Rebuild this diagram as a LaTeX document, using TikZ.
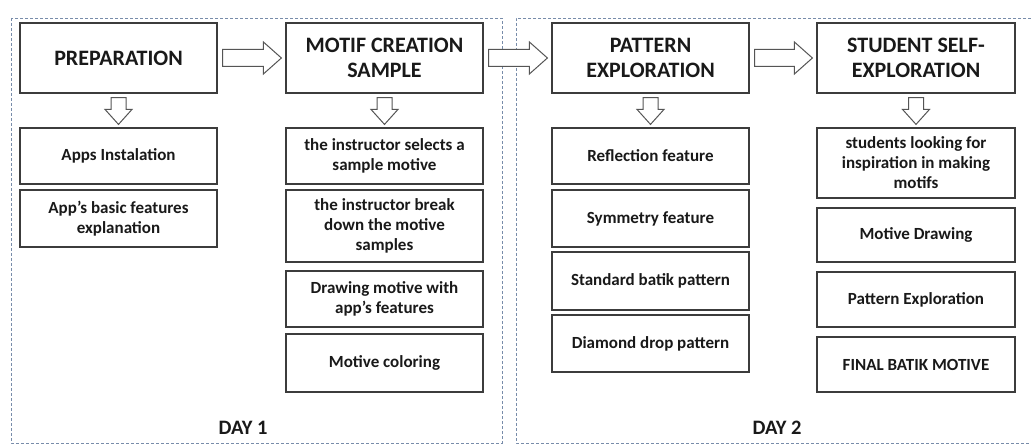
\documentclass[tikz,border=0pt]{standalone}
\usepackage{fontspec}
\setmainfont{Carlito}
\usetikzlibrary{calc}
\definecolor{framecol}{RGB}{120,140,170}
\definecolor{boxcol}{RGB}{60,60,60}
\definecolor{txtcol}{RGB}{25,25,25}
\definecolor{arrcol}{RGB}{85,85,85}
\tikzset{
  base/.style={draw=boxcol, line width=1.2pt, fill=white, text=txtcol, align=center, inner sep=2pt},
  titlebox/.style={base, minimum width=197pt, minimum height=70pt, font=\fontsize{22}{24.5}\selectfont\bfseries},
  itembox/.style={base, minimum width=197pt, font=\fontsize{17}{20}\selectfont\bfseries},
  daylabel/.style={text=txtcol, font=\fontsize{20.5}{22}\selectfont\bfseries},
  frame/.style={draw=framecol, line width=0.8pt, dash pattern=on 3pt off 2pt},
  blockarrow/.style={draw=arrcol, line width=1pt, fill=white, line join=miter}
}
\newcommand\harrow[2]{%
  \draw[blockarrow] let \p1=(#1.east), \p2=(#2.west) in
    (\x1+5pt,\y1+8.5pt) -- (\x2-22pt,\y1+8.5pt) -- (\x2-22pt,\y1+16pt) -- (\x2-4pt,\y1)
    -- (\x2-22pt,\y1-16pt) -- (\x2-22pt,\y1-8.5pt) -- (\x1+5pt,\y1-8.5pt) -- cycle;}
\newcommand\varrow[2]{%
  \draw[blockarrow] let \p1=(#1.south), \p2=(#2.north) in
    (\x1-7.5pt,\y1-4pt) -- (\x1-7.5pt,\y2+18pt) -- (\x1-13.5pt,\y2+18pt) -- (\x1,\y2+3pt)
    -- (\x1+13.5pt,\y2+18pt) -- (\x1+7.5pt,\y2+18pt) -- (\x1+7.5pt,\y1-4pt) -- cycle;}
\begin{document}
\begin{tikzpicture}[x=1pt,y=-1pt]
\useasboundingbox (0,0) rectangle (1031,446);
\fill[white] (0,0) rectangle (1031,446);
% frames
\draw[frame] (11,18) rectangle (502,443);
\draw[frame] (1031,18) -- (516,18) -- (516,443) -- (1031,443);
% titles
\node[titlebox] (prep) at (118.5,58) {PREPARATION};
\node[titlebox] (motif) at (384.5,58) {MOTIF CREATION\\SAMPLE};
\node[titlebox] (patt) at (650.5,58) {PATTERN\\EXPLORATION};
\node[titlebox, minimum width=198pt] (stud) at (916,58) {STUDENT SELF-\\EXPLORATION};
% column 1
\node[itembox, minimum height=56pt] (a1) at (118.5,156) {Apps Instalation};
\node[itembox, minimum height=57pt] (a2) at (118.5,218.5) {App’s basic features\\explanation};
% column 2
\node[itembox, minimum height=56pt] (b1) at (384.5,156) {the instructor selects a\\sample motive};
\node[itembox, minimum height=72pt] (b2) at (384.5,226) {the instructor break\\down the motive\\samples};
\node[itembox, minimum height=56pt] (b3) at (384.5,299) {Drawing motive with\\app’s features};
\node[itembox, minimum height=58pt] (b4) at (384.5,363) {Motive coloring};
% column 3
\node[itembox, minimum height=56pt] (c1) at (650.5,156) {Reflection feature};
\node[itembox, minimum height=57pt] (c2) at (650.5,218.5) {Symmetry feature};
\node[itembox, minimum height=58pt] (c3) at (650.5,281) {Standard batik pattern};
\node[itembox, minimum height=57pt] (c4) at (650.5,343.5) {Diamond drop pattern};
% column 4
\node[itembox, minimum width=198pt, minimum height=70pt] (d1) at (916,163) {students looking for\\inspiration in making\\motifs};
\node[itembox, minimum width=198pt, minimum height=54pt] (d2) at (916,235) {Motive Drawing};
\node[itembox, minimum width=198pt, minimum height=55pt] (d3) at (916,299.5) {Pattern Exploration};
\node[itembox, minimum width=198pt, minimum height=55pt] (d4) at (916,364.5) {FINAL BATIK MOTIVE};
% day labels
\node[daylabel] (day1) at (243,428) {DAY 1};
\node[daylabel] (day2) at (777,428) {DAY 2};
% arrows
\harrow{prep}{motif}
\harrow{motif}{patt}
\harrow{patt}{stud}
\varrow{prep}{a1}
\varrow{motif}{b1}
\varrow{patt}{c1}
\varrow{stud}{d1}
\end{tikzpicture}
\end{document}
